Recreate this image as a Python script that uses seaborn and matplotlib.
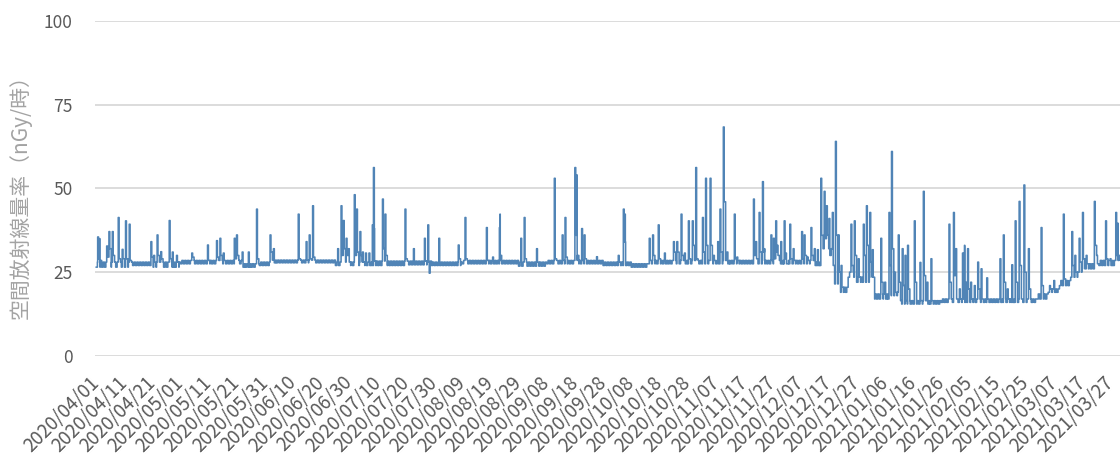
import matplotlib
matplotlib.use("Agg")
import matplotlib.pyplot as plt
import numpy as np
import pandas as pd
import seaborn as sns

# ---- data -------------------------------------------------------------
start_date = "2020-04-01"
n_days = 364

# background level: (day from start, daily low, daily high), held until next entry
base_day = [0, 12, 20, 30, 52, 58, 62, 85, 98, 110, 119, 130, 150, 160, 180,
            190, 196, 255, 258, 262, 264, 267, 270, 276, 282, 285, 300, 320,
            334, 338, 342, 346, 350, 356]
base_lo = [26.5, 27.0, 26.5, 27.5, 26.5, 27.0, 27.8, 27.0, 27.0, 27.2, 27.0,
           27.5, 26.8, 27.5, 27.0, 26.5, 27.5, 27.0, 32.0, 21.5, 19.0, 23.5,
           22.0, 17.0, 18.0, 15.5, 16.0, 16.0, 17.0, 19.0, 21.0, 23.5, 26.0, 27.0]
base_hi = [28.0, 28.0, 28.0, 28.5, 27.5, 28.0, 28.6, 28.0, 28.3, 28.3, 28.0,
           28.5, 28.0, 28.5, 28.0, 27.5, 28.5, 28.0, 34.0, 23.0, 20.5, 25.0,
           23.5, 18.5, 19.0, 16.5, 17.0, 17.0, 18.5, 20.0, 22.5, 25.0, 27.5, 28.5]

# short events: onset day, peak value, level held just after the peak (0 = none)
event_day = [0.6, 1.2, 3.8, 4.6, 5.8, 7.9, 9.3, 10.5, 11.8, 19.5, 20.5, 21.7,
             23.0, 26.0, 27.1, 28.6, 34.0, 39.6, 42.8, 44.0, 45.2, 49.1, 49.9,
             51.9, 54.1, 57.0,
             61.8, 63.0, 71.8, 74.6, 75.7, 76.9, 85.8, 87.0, 87.8, 88.8, 89.6,
             91.7, 92.5, 93.7, 94.6, 95.7, 96.9, 98.1, 98.5, 101.7, 102.6,
             109.7, 112.7, 116.6, 117.8, 118.3,
             121.7, 128.6, 131.0, 138.6, 140.8, 143.2, 143.4, 150.8, 152.0,
             156.4, 162.7, 165.5, 166.5, 170.0, 170.6, 172.4, 173.3, 177.7,
             185.4, 187.2, 187.6, 196.4, 197.6, 199.6, 201.8, 205.0, 206.2,
             207.7, 208.9, 210.3, 211.7, 212.9, 215.3, 216.4, 218.0, 219.2,
             220.7, 221.5, 222.7, 224.0, 226.6, 227.5, 233.4, 234.2, 235.4,
             236.6, 237.3, 239.6, 240.5, 241.3,
             241.8, 243.1, 244.3, 245.0, 246.3, 247.5, 250.5, 251.4, 252.5,
             253.8, 255.0, 256.1, 257.3, 258.5, 259.3, 260.2, 261.4, 262.5,
             263.5, 264.5, 268.0, 269.2, 270.6, 272.4, 273.5, 274.7, 275.6,
             278.6, 280.0, 281.5, 282.4, 283.5, 284.8, 286.2, 287.2, 288.1,
             290.5, 292.5, 293.7, 295.0, 296.4,
             302.8, 304.4, 305.2, 306.5, 307.6, 308.3, 309.4, 310.5, 311.8,
             313.0, 314.2, 316.2, 320.9, 322.1, 323.5, 325.1, 326.3, 327.7,
             329.4, 331.0, 335.5, 338.5, 340.0, 343.4, 346.4, 347.5, 349.0,
             350.2, 351.5, 354.4, 355.2, 358.4, 360.0, 362.0, 362.7]
event_peak = [35.5, 35.0, 32.8, 37.1, 37.1, 41.3, 31.8, 40.3, 39.3, 34.1, 30.0,
              36.1, 31.1, 40.4, 31.0, 30.0, 30.7, 33.1, 34.4, 35.1, 30.7, 35.1,
              36.1, 31.0, 31.0, 43.8,
              36.1, 32.0, 42.3, 34.1, 36.1, 44.8, 32.0, 44.8, 40.4, 35.1, 32.0,
              48.1, 43.8, 37.1, 31.0, 30.7, 30.7, 39.1, 56.2, 46.8, 42.3,
              43.8, 32.0, 35.1, 39.1, 24.7,
              35.1, 33.1, 41.3, 38.3, 29.5, 38.3, 42.3, 35.1, 41.3,
              32.0, 53.0, 36.1, 41.3, 56.2, 54.0, 38.0, 36.1, 29.6,
              30.0, 43.8, 42.3, 35.1, 36.1, 39.1, 30.7, 34.1, 34.1,
              42.3, 30.7, 40.3, 40.3, 56.2, 41.3, 53.0, 53.0, 30.0,
              34.1, 43.8, 68.3, 31.0, 42.3, 29.5, 46.8, 34.1, 42.8,
              52.0, 32.0, 36.1, 35.1, 40.3,
              33.0, 34.1, 40.3, 30.7, 39.3, 32.0, 37.1, 36.1, 29.5,
              38.3, 32.0, 31.7, 53.0, 49.1, 44.8, 41.0, 42.8, 64.0,
              36.1, 27.0, 39.3, 40.3, 29.0, 39.3, 44.8, 42.8, 31.7,
              35.1, 22.0, 42.8, 61.0, 25.0, 36.1, 32.0, 30.0, 33.0,
              40.3, 27.9, 49.1, 22.0, 29.0,
              39.3, 42.8, 32.0, 20.0, 30.7, 33.0, 32.0, 22.0, 21.0,
              28.0, 26.0, 23.3, 29.0, 36.1, 20.0, 27.2, 40.3, 46.1,
              51.0, 32.0, 38.3, 21.0, 22.5, 42.3, 37.1, 30.0, 35.1,
              42.8, 30.0, 46.1, 30.0, 40.3, 29.0, 42.8, 39.6]
event_tail = [29, 28.5, 29.5, 32, 30, 29, 29, 29, 28.5, 29.5, 0, 30,
              29, 29, 0, 0, 29.5, 0, 29.5, 30, 0, 29, 30,
              0, 0, 29,
              31, 0, 29, 0, 29, 29.5, 0, 30, 32, 30, 0,
              30, 31, 30, 0, 0, 0, 0, 38, 32, 30,
              29, 0, 0, 28, 0,
              0, 29, 29, 0, 0, 0, 30, 0, 29,
              0, 29, 0, 29.5, 36, 30, 0, 29, 0,
              0, 34, 34, 0, 30, 29, 0, 31, 31,
              30, 0, 29, 33, 29, 31, 33, 33, 0,
              0, 31, 46, 0, 29, 0, 30, 29, 31,
              31, 0, 0, 29, 31,
              30, 0, 29, 0, 29, 0, 29, 30, 0,
              30, 0, 0, 36, 35, 36, 30, 27, 36,
              25, 0, 27, 30, 0, 30, 33, 28, 0,
              22, 0, 27, 32, 0, 22, 21, 0, 20,
              22, 0, 24, 0, 0,
              22, 24, 0, 0, 0, 22, 20, 0, 0,
              20, 0, 0, 0, 22, 0, 0, 22, 27,
              25, 20, 21, 0, 0, 23, 27, 0, 28,
              29, 0, 33, 0, 29, 0, 30, 30]

y_ticks = [0, 25, 50, 75, 100]
y_title = "空間放射線量率（nGy/時）"

# ---- build the plotted series -----------------------------------------
def level(t):
    i = np.searchsorted(base_day, t, side="right") - 1
    i = max(i, 0)
    return base_lo[i] if (t % 1.0) < 0.5 else base_hi[i]

win = 0.8
windows = [(d, d + win) for d in event_day]

pts = {}
for d in range(n_days):
    for t in (d, d + 0.5):
        if not any(a <= t < b for a, b in windows):
            pts[t] = level(t)
for d, p, tl in zip(event_day, event_peak, event_tail):
    pts[d] = p
    pts[round(d + 0.3, 3)] = tl if tl else level(d + 0.3)
    pts[round(d + win, 3)] = level(d + win)

t_sorted = sorted(pts)
t0 = pd.Timestamp(start_date)
df = pd.DataFrame({
    "time": [t0 + pd.Timedelta(days=float(t)) for t in t_sorted],
    "value": [pts[t] for t in t_sorted],
})

# ---- figure -----------------------------------------------------------
sns.set_theme(style="white")
plt.rcParams["font.family"] = ["Noto Sans CJK JP", "DejaVu Sans"]

W, H = 1120, 465
fig = plt.figure(figsize=(W / 100, H / 100), dpi=100)
ax = fig.add_axes([95 / W, 109 / H, 1 - 95 / W, (356 - 20.7) / H])

sns.lineplot(data=df, x="time", y="value", ax=ax, color="#5084b6",
             linewidth=1.15, drawstyle="steps-post", estimator=None,
             sort=False)

ax.set_ylim(0, 100)
ax.set_yticks(y_ticks)
ax.set_xlim(t0 - pd.Timedelta(days=0.35), t0 + pd.Timedelta(days=363.5))

ticks = pd.date_range(start_date, periods=37, freq="10D")
ax.set_xticks(ticks)
ax.set_xticklabels([d.strftime("%Y/%m/%d") for d in ticks], rotation=45,
                   ha="right", va="center", rotation_mode="anchor")

ax.grid(axis="y", color="#d9d9d9", linewidth=1.3)
ax.grid(axis="x", visible=False)
ax.set_axisbelow(True)
for s in ax.spines.values():
    s.set_visible(False)

ax.tick_params(axis="y", length=0, pad=16, labelsize=12.5, labelcolor="#595959")
ax.tick_params(axis="x", length=0, pad=17, labelsize=13.5, labelcolor="#595959")

ax.set_xlabel("")
ax.set_ylabel(y_title, fontsize=15, color="#a3a3a3")
ax.yaxis.set_label_coords(-0.062, 0.49)

fig.savefig("out.png", dpi=100, facecolor="white")
